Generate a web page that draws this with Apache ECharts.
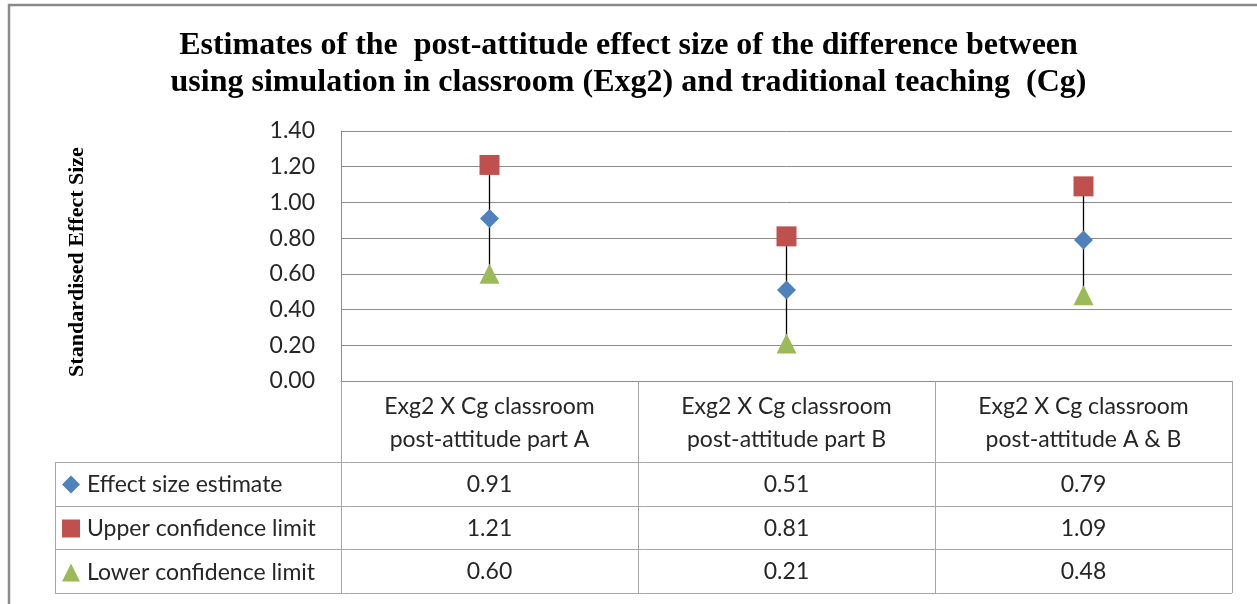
<!DOCTYPE html>
<html>
<head>
<meta charset="utf-8">
<script src="https://cdn.jsdelivr.net/npm/echarts@6/dist/echarts.min.js"></script>
<style>
html,body{margin:0;padding:0;background:#fff;}
#main{width:1257px;height:604px;}
</style>
</head>
<body>
<div id="main"></div>
<script>
const categories = [
  'Exg2 X Cg classroom\npost-attitude part A',
  'Exg2 X Cg classroom\npost-attitude part B',
  'Exg2 X Cg classroom\npost-attitude A & B'
];
const seriesNames = ['Effect size estimate', 'Upper confidence limit', 'Lower confidence limit'];
const effectSize = [0.91, 0.51, 0.79];
const upperLimit = [1.21, 0.81, 1.09];
const lowerLimit = [0.60, 0.21, 0.48];
const yTicks = { min: 0, max: 1.4, interval: 0.2 };

const FONT = 'Lato, "Open Sans", sans-serif';
const SERIF = '"Liberation Serif", "DejaVu Serif", serif';
const GRID_COLOR = '#8c8c8c';
const TABLE_COLOR = '#a6a6a6';

const chart = echarts.init(document.getElementById('main'), null, { renderer: 'canvas' });

const grid = { left: 341, right: 25, top: 131, bottom: 223 };
const rowLines = [462, 506, 549, 593];
const tableLeft = 55;

const option = {
  animation: false,
  backgroundColor: '#fff',
  title: {
    text: 'Estimates of the  post-attitude effect size of the difference between\nusing simulation in classroom (Exg2) and traditional teaching  (Cg)',
    left: 'center',
    top: 22,
    padding: [5, 0, 5, 13],
    textStyle: { fontFamily: SERIF, fontWeight: 'bold', fontSize: 32, lineHeight: 37, color: '#000', align: 'center' }
  },
  legend: {
    orient: 'vertical',
    left: 62,
    top: 473,
    itemWidth: 18,
    itemHeight: 18,
    itemGap: 21,
    padding: 0,
    selectedMode: false,
    data: seriesNames,
    textStyle: { fontFamily: FONT, fontSize: 23, color: '#262626', padding: [0, 0, 0, 2] }
  },
  grid: grid,
  xAxis: {
    type: 'category',
    data: categories,
    boundaryGap: true,
    axisLine: { show: true, lineStyle: { color: GRID_COLOR, width: 1 } },
    axisTick: { show: true, length: rowLines[3] - (604 - grid.bottom), lineStyle: { color: TABLE_COLOR, width: 1 } },
    axisLabel: { fontFamily: FONT, fontSize: 23, lineHeight: 33, color: '#262626', margin: 9, interval: 0 },
    splitLine: { show: false }
  },
  yAxis: {
    type: 'value',
    min: yTicks.min,
    max: yTicks.max,
    interval: yTicks.interval,
    name: 'Standardised Effect Size',
    nameLocation: 'middle',
    nameRotate: 90,
    nameGap: 253,
    nameTextStyle: { fontFamily: SERIF, fontWeight: 'bold', fontSize: 22, color: '#000', padding: [0, 12, 0, 0] },
    axisLine: { show: true, lineStyle: { color: GRID_COLOR, width: 1 } },
    axisTick: { show: false },
    axisLabel: { fontFamily: FONT, fontSize: 23, color: '#262626', margin: 26, formatter: v => v.toFixed(2) },
    splitLine: { show: true, lineStyle: { color: GRID_COLOR, width: 1 } }
  },
  series: [
    {
      type: 'custom',
      name: 'range',
      z: 1,
      silent: true,
      data: categories.map((c, i) => [i, lowerLimit[i], upperLimit[i]]),
      encode: { x: 0, y: [1, 2] },
      renderItem: function (params, api) {
        const p1 = api.coord([api.value(0), api.value(1)]);
        const p2 = api.coord([api.value(0), api.value(2)]);
        return { type: 'line', shape: { x1: p1[0], y1: p1[1], x2: p2[0], y2: p2[1] }, style: { stroke: '#000', lineWidth: 1.3 } };
      }
    },
    {
      type: 'scatter', name: seriesNames[0], data: effectSize, symbol: 'diamond', symbolSize: [19, 19],
      itemStyle: { color: '#4F81BD', opacity: 1 }, z: 3
    },
    {
      type: 'scatter', name: seriesNames[1], data: upperLimit, symbol: 'rect', symbolSize: 20,
      itemStyle: { color: '#C0504D', opacity: 1 }, z: 3
    },
    {
      type: 'scatter', name: seriesNames[2], data: lowerLimit, symbol: 'triangle', symbolSize: 20,
      itemStyle: { color: '#9BBB59', opacity: 1 }, z: 3
    }
  ]
};
chart.setOption(option);

// Data table (values + grid lines) below the axis
const plotRight = 1257 - grid.right;
const graphics = [];
graphics.push({ type: 'rect', shape: { x: 9, y: 5, width: 1270, height: 620 }, style: { fill: null, stroke: '#8a8a8a', lineWidth: 2.5 }, silent: true, z: 0 });
rowLines.forEach(y => {
  graphics.push({ type: 'line', shape: { x1: tableLeft, y1: y + 0.5, x2: plotRight, y2: y + 0.5 }, style: { stroke: TABLE_COLOR, lineWidth: 1 }, silent: true });
});
graphics.push({ type: 'line', shape: { x1: tableLeft + 0.5, y1: rowLines[0], x2: tableLeft + 0.5, y2: rowLines[3] }, style: { stroke: TABLE_COLOR, lineWidth: 1 }, silent: true });
const tableRows = [effectSize, upperLimit, lowerLimit];
tableRows.forEach((arr, r) => {
  const yc = (rowLines[r] + rowLines[r + 1]) / 2 + 1;
  arr.forEach((v, i) => {
    const xc = chart.convertToPixel({ xAxisIndex: 0 }, i);
    graphics.push({ type: 'text', x: xc, y: yc, style: { text: v.toFixed(2), fontFamily: FONT, fontSize: 23, fill: '#262626', align: 'center', verticalAlign: 'middle' }, silent: true });
  });
});
chart.setOption({ graphic: graphics });
</script>
</body>
</html>
